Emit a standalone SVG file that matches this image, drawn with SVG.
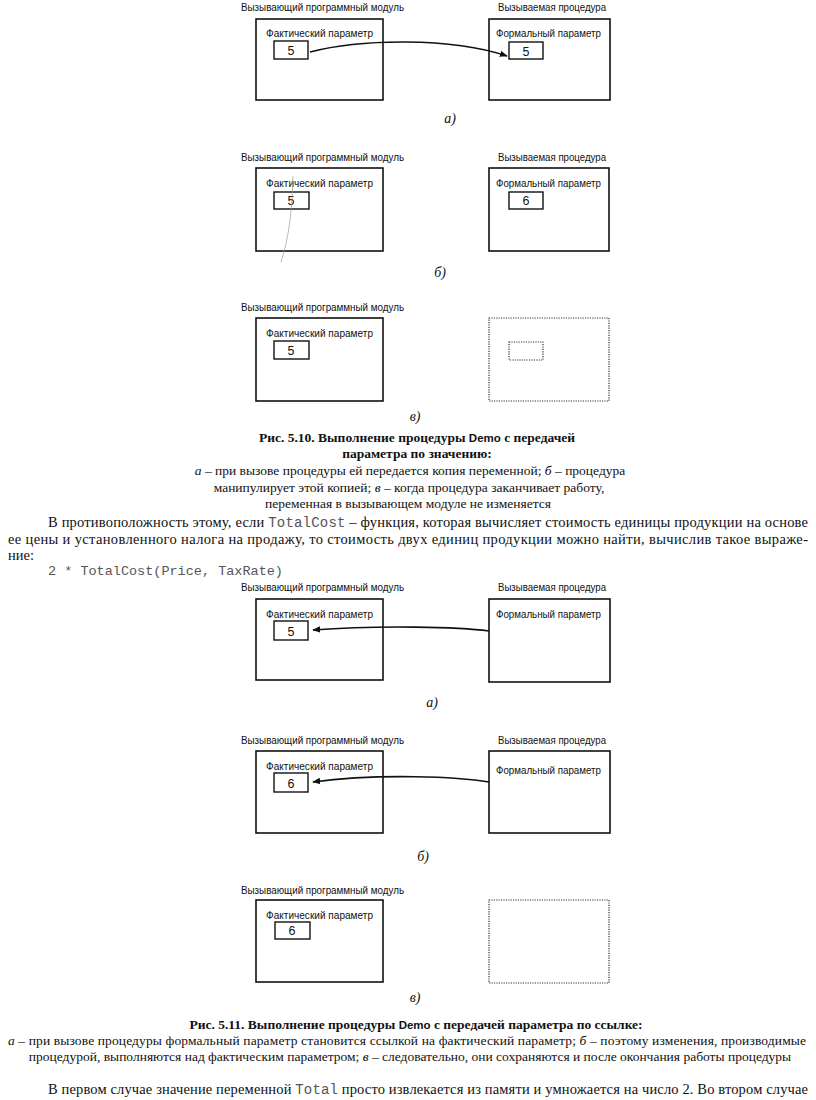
<svg xmlns="http://www.w3.org/2000/svg" width="816" height="1100" viewBox="0 0 816 1100">
<defs>
<style>
.bg{fill:#fff}
.box{fill:none;stroke:#111;stroke-width:1.6}
.ibox{fill:none;stroke:#111;stroke-width:1.4}
.dbox{fill:none;stroke:#333;stroke-width:1.2;stroke-dasharray:1.2 1.2}
.lbl{font-family:"Liberation Sans",Arial,sans-serif;font-size:11px;fill:#111}
.num{font-family:"Liberation Sans",Arial,sans-serif;font-size:12.5px;fill:#111;text-anchor:middle}
.sub{font-family:"Liberation Serif","Times New Roman",serif;font-size:14px;font-style:italic;fill:#111;text-anchor:middle}
.cap{font-family:"Liberation Serif","Times New Roman",serif;font-size:13.5px;fill:#111}
.capb{font-family:"Liberation Serif","Times New Roman",serif;font-size:13.5px;font-weight:bold;fill:#111}
.body{font-family:"Liberation Serif","Times New Roman",serif;font-size:14.5px;fill:#111}
.mono{font-family:"Liberation Mono","Courier New",monospace;fill:#555}
.demo{font-family:"Liberation Sans",Arial,sans-serif;font-size:11.5px}
.it{font-style:italic}
.conn{fill:none;stroke:#111;stroke-width:1.7}
.art{fill:none;stroke:#999;stroke-width:0.7}
</style>
<marker id="ah" viewBox="0 0 10 10" refX="9" refY="5" markerWidth="8" markerHeight="8" orient="auto" markerUnits="userSpaceOnUse">
<path d="M0,1 L10,5 L0,9 z" fill="#111"/>
</marker>
</defs>
<rect class="bg" x="0" y="0" width="816" height="1100"/>

<!-- Fig 5.10 a -->
<g id="f510a-caller">
<text class="lbl" x="241" y="11" textLength="163" lengthAdjust="spacingAndGlyphs">Вызывающий программный модуль</text>
<rect class="box" x="256" y="19" width="127" height="81"/>
<text class="lbl" x="266" y="37" textLength="107" lengthAdjust="spacingAndGlyphs">Фактический параметр</text>
<rect class="ibox" x="274" y="41" width="34" height="18"/>
<text class="num" x="291" y="55">5</text>
</g>
<g id="f510a-callee">
<text class="lbl" x="498" y="11" textLength="108" lengthAdjust="spacingAndGlyphs">Вызываемая процедура</text>
<rect class="box" x="489" y="19" width="121" height="81"/>
<text class="lbl" x="496" y="37" textLength="105" lengthAdjust="spacingAndGlyphs">Формальный параметр</text>
<rect class="ibox" x="509" y="42" width="34" height="17"/>
<text class="num" x="526" y="56">5</text>
</g>
<text class="sub" x="450" y="123">а)</text>

<!-- Fig 5.10 b -->
<g id="f510b-caller">
<text class="lbl" x="241" y="161" textLength="163" lengthAdjust="spacingAndGlyphs">Вызывающий программный модуль</text>
<rect class="box" x="256" y="168" width="127" height="83"/>
<text class="lbl" x="266" y="187" textLength="107" lengthAdjust="spacingAndGlyphs">Фактический параметр</text>
<rect class="ibox" x="274" y="192" width="35" height="17"/>
<text class="num" x="291" y="205">5</text>
<path class="art" d="M293,176 C292,215 288,240 281,262"/>
</g>
<g id="f510b-callee">
<text class="lbl" x="498" y="161" textLength="108" lengthAdjust="spacingAndGlyphs">Вызываемая процедура</text>
<rect class="box" x="489" y="168" width="120" height="83"/>
<text class="lbl" x="496" y="187" textLength="105" lengthAdjust="spacingAndGlyphs">Формальный параметр</text>
<rect class="ibox" x="509" y="192" width="34" height="17"/>
<text class="num" x="526" y="205">6</text>
</g>
<text class="sub" x="440" y="277">б)</text>

<!-- Fig 5.10 c -->
<g id="f510c-caller">
<text class="lbl" x="241" y="311" textLength="163" lengthAdjust="spacingAndGlyphs">Вызывающий программный модуль</text>
<rect class="box" x="256" y="318" width="127" height="83"/>
<text class="lbl" x="266" y="337" textLength="107" lengthAdjust="spacingAndGlyphs">Фактический параметр</text>
<rect class="ibox" x="274" y="341" width="35" height="18"/>
<text class="num" x="291" y="355">5</text>
</g>
<g id="f510c-callee">
<rect class="dbox" x="489" y="318" width="120" height="83"/>
<rect class="dbox" x="509" y="342" width="34" height="18"/>
</g>
<text class="sub" x="415" y="421">в)</text>

<!-- Caption 5.10 -->
<text class="capb" x="417" y="442" text-anchor="middle">Рис. 5.10. Выполнение процедуры <tspan class="demo">Demo</tspan> с передачей</text>
<text class="capb" x="417" y="458" text-anchor="middle">параметра по значению:</text>
<text class="cap" x="410" y="475" text-anchor="middle"><tspan class="it">а</tspan> – при вызове процедуры ей передается копия переменной; <tspan class="it">б</tspan> – процедура</text>
<text class="cap" x="409" y="492" text-anchor="middle">манипулирует этой копией; <tspan class="it">в</tspan> – когда процедура заканчивает работу,</text>
<text class="cap" x="408" y="508" text-anchor="middle">переменная в вызывающем модуле не изменяется</text>

<!-- Paragraph -->
<text class="body" x="48" y="527" textLength="760" lengthAdjust="spacing">В противоположность этому, если <tspan class="mono" font-size="14">TotalCost</tspan> – функция, которая вычисляет стоимость единицы продукции на основе</text>
<text class="body" x="8" y="544" textLength="800" lengthAdjust="spacing">ее цены и установленного налога на продажу, то стоимость двух единиц продукции можно найти, вычислив такое выраже-</text>
<text class="body" x="8" y="560">ние:</text>
<text class="mono" x="48" y="575" font-size="13.5">2 * TotalCost(Price, TaxRate)</text>

<!-- Fig 5.11 a -->
<g id="f511a-caller">
<text class="lbl" x="241" y="591" textLength="163" lengthAdjust="spacingAndGlyphs">Вызывающий программный модуль</text>
<rect class="box" x="256" y="599" width="127" height="81"/>
<text class="lbl" x="266" y="618" textLength="107" lengthAdjust="spacingAndGlyphs">Фактический параметр</text>
<rect class="ibox" x="274" y="621" width="34" height="19"/>
<text class="num" x="291" y="636">5</text>
</g>
<g id="f511a-callee">
<text class="lbl" x="498" y="591" textLength="108" lengthAdjust="spacingAndGlyphs">Вызываемая процедура</text>
<rect class="box" x="489" y="599" width="121" height="83"/>
<text class="lbl" x="496" y="618" textLength="105" lengthAdjust="spacingAndGlyphs">Формальный параметр</text>
</g>
<text class="sub" x="432" y="707">а)</text>

<!-- Fig 5.11 b -->
<g id="f511b-caller">
<text class="lbl" x="241" y="744" textLength="163" lengthAdjust="spacingAndGlyphs">Вызывающий программный модуль</text>
<rect class="box" x="256" y="751" width="127" height="82"/>
<text class="lbl" x="266" y="770" textLength="107" lengthAdjust="spacingAndGlyphs">Фактический параметр</text>
<rect class="ibox" x="274" y="773" width="34" height="19"/>
<text class="num" x="291" y="788">6</text>
</g>
<g id="f511b-callee">
<text class="lbl" x="498" y="744" textLength="108" lengthAdjust="spacingAndGlyphs">Вызываемая процедура</text>
<rect class="box" x="489" y="751" width="121" height="82"/>
<text class="lbl" x="496" y="774" textLength="105" lengthAdjust="spacingAndGlyphs">Формальный параметр</text>
</g>
<text class="sub" x="423" y="861">б)</text>

<!-- Fig 5.11 c -->
<g id="f511c-caller">
<text class="lbl" x="241" y="894" textLength="163" lengthAdjust="spacingAndGlyphs">Вызывающий программный модуль</text>
<rect class="box" x="256" y="900" width="127" height="82"/>
<text class="lbl" x="266" y="919" textLength="107" lengthAdjust="spacingAndGlyphs">Фактический параметр</text>
<rect class="ibox" x="275" y="922" width="35" height="17"/>
<text class="num" x="292" y="935">6</text>
</g>
<g id="f511c-callee">
<rect class="dbox" x="489" y="900" width="120" height="83"/>
</g>
<text class="sub" x="415" y="1002">в)</text>

<!-- Connectors -->
<g id="connectors">
<path class="conn" d="M310,52 C360,39 450,37 507,56" marker-end="url(#ah)"/>
<path class="conn" d="M489,631 C460,627 380,625 313,630" marker-end="url(#ah)"/>
<path class="conn" d="M489,782 C460,777 380,773 313,782" marker-end="url(#ah)"/>
</g>

<!-- Caption 5.11 -->
<text class="capb" x="416" y="1029" text-anchor="middle">Рис. 5.11. Выполнение процедуры <tspan class="demo">Demo</tspan> с передачей параметра по ссылке:</text>
<text class="cap" x="8" y="1045" textLength="798" lengthAdjust="spacing"><tspan class="it">а</tspan> – при вызове процедуры формальный параметр становится ссылкой на фактический параметр; <tspan class="it">б</tspan> – поэтому изменения, производимые</text>
<text class="cap" x="410" y="1061" text-anchor="middle">процедурой, выполняются над фактическим параметром; <tspan class="it">в</tspan> – следовательно, они сохраняются и после окончания работы процедуры</text>

<text class="body" x="48" y="1094" textLength="760" lengthAdjust="spacing">В первом случае значение переменной <tspan class="mono" font-size="14">Total</tspan>  просто извлекается из памяти и умножается на число 2. Во втором случае</text>
</svg>
